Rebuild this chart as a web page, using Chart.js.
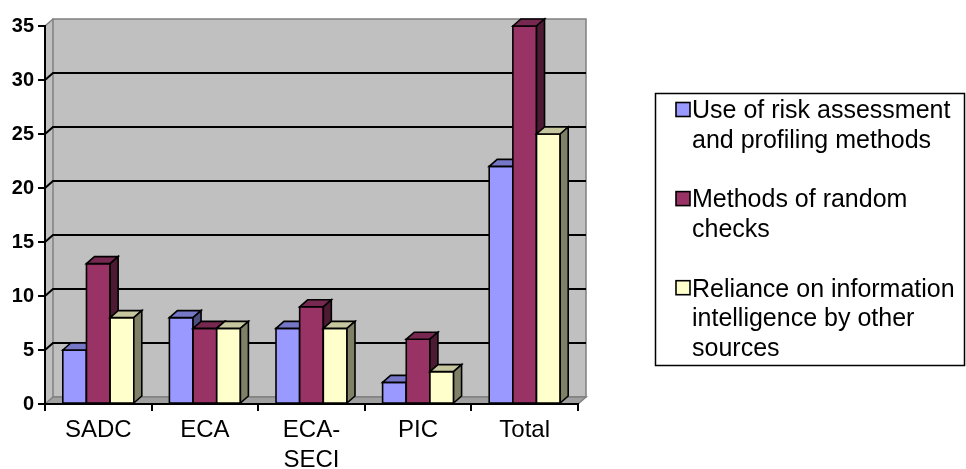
<!DOCTYPE html>
<html>
<head>
<meta charset="utf-8">
<script src="https://cdn.jsdelivr.net/npm/chart.js@4/dist/chart.umd.min.js"></script>
<style>
  html, body { margin: 0; padding: 0; background: #ffffff; }
  #wrap { width: 966px; height: 469px; }
</style>
</head>
<body>
<div id="wrap"><canvas id="c" width="966" height="469"></canvas></div>
<script>
// Regions and counts per method
const categories = ['SADC', 'ECA', ['ECA-', 'SECI'], 'PIC', 'Total'];
const riskAssessment = [5, 8, 7, 2, 22];
const randomChecks = [13, 7, 9, 6, 35];
const otherSources = [8, 7, 7, 3, 25];
const seriesNames = [
  ['Use of risk assessment', 'and profiling methods'],
  ['Methods of random', 'checks'],
  ['Reliance on information', 'intelligence by other', 'sources']
];
const seriesColors = ['#9999FF', '#993366', '#FFFFCC'];
const yMin = 0, yMax = 35, yStep = 5;

const FONT = '"Liberation Sans", Arial, sans-serif';
const DEPTH = { dx: 8, dy: 7 };

function shade(hex, f) {
  const n = parseInt(hex.slice(1), 16);
  const r = Math.round(((n >> 16) & 255) * f);
  const g = Math.round(((n >> 8) & 255) * f);
  const b = Math.round((n & 255) * f);
  return `rgb(${r},${g},${b})`;
}

function poly(ctx, pts, fill, stroke, lw) {
  ctx.beginPath();
  ctx.moveTo(pts[0][0], pts[0][1]);
  for (let i = 1; i < pts.length; i++) ctx.lineTo(pts[i][0], pts[i][1]);
  ctx.closePath();
  if (fill) { ctx.fillStyle = fill; ctx.fill(); }
  if (stroke) { ctx.strokeStyle = stroke; ctx.lineWidth = lw; ctx.stroke(); }
}

// Back wall, side wall, floor and gridlines drawn behind everything
const wallPlugin = {
  id: 'wall3d',
  beforeDraw(chart) {
    const ctx = chart.ctx;
    const { left, right, top, bottom } = chart.chartArea;
    const { dx, dy } = DEPTH;
    const ys = chart.scales.y;
    ctx.save();
    // side wall
    poly(ctx, [[left, top], [left + dx, top - dy], [left + dx, bottom - dy], [left, bottom]], '#c0c0c0', null);
    // back wall
    poly(ctx, [[left + dx, top - dy], [right + dx, top - dy], [right + dx, bottom - dy], [left + dx, bottom - dy]], '#c0c0c0', '#808080', 1.5);
    // floor
    poly(ctx, [[left, bottom], [left + dx, bottom - dy], [right + dx, bottom - dy], [right, bottom]], '#a0a0a0', '#808080', 1.5);
    // top edge of side wall
    ctx.strokeStyle = '#808080';
    ctx.lineWidth = 1.5;
    ctx.beginPath();
    ctx.moveTo(left, top);
    ctx.lineTo(left + dx, top - dy);
    ctx.stroke();
    // gridlines
    ctx.strokeStyle = '#000000';
    ctx.lineWidth = 2;
    ys.ticks.forEach(t => {
      if (t.value <= yMin || t.value >= yMax) return;
      const py = ys.getPixelForValue(t.value);
      ctx.beginPath();
      ctx.moveTo(left, py);
      ctx.lineTo(left + dx, py - dy);
      ctx.lineTo(right + dx, py - dy);
      ctx.stroke();
    });
    ctx.restore();
  }
};

// Columns drawn as prisms, in series order so later series overlap earlier sides
const prismPlugin = {
  id: 'prism',
  beforeDatasetsDraw(chart) {
    const ctx = chart.ctx;
    const { dx, dy } = DEPTH;
    ctx.save();
    ctx.lineJoin = 'miter';
    const n = chart.data.labels.length;
    for (let i = 0; i < n; i++) {
      chart.data.datasets.forEach((ds, d) => {
        const el = chart.getDatasetMeta(d).data[i];
        if (!el) return;
        const p = el.getProps(['x', 'y', 'base', 'width'], true);
        const x0 = p.x - p.width / 2, x1 = p.x + p.width / 2;
        const yt = p.y, yb = p.base;
        const col = ds.backgroundColor;
        // front face
        poly(ctx, [[x0, yt], [x1, yt], [x1, yb], [x0, yb]], col, '#000', 1.6);
        // top face
        poly(ctx, [[x0, yt], [x0 + dx, yt - dy], [x1 + dx, yt - dy], [x1, yt]], shade(col, 0.78), '#000', 1.6);
        // side face
        poly(ctx, [[x1, yt], [x1 + dx, yt - dy], [x1 + dx, yb - dy], [x1, yb]], shade(col, 0.5), '#000', 1.6);
      });
    }
    ctx.restore();
    return false;
  }
};

// Boxed legend on the right
const legendPlugin = {
  id: 'boxLegend',
  afterDraw(chart) {
    const ctx = chart.ctx;
    ctx.save();
    ctx.strokeStyle = '#000';
    ctx.lineWidth = 1.5;
    ctx.strokeRect(655.5, 93.5, 309, 272);
    ctx.font = `25px ${FONT}`;
    ctx.textBaseline = 'middle';
    ctx.textAlign = 'left';
    const lineH = 29.7;
    let line = 0;
    chart.data.datasets.forEach((ds, d) => {
      const lines = seriesNames[d];
      const cy = 111.5 + line * lineH;
      ctx.fillStyle = ds.backgroundColor;
      ctx.fillRect(676, cy - 9, 14, 14);
      ctx.strokeStyle = '#000';
      ctx.lineWidth = 1.6;
      ctx.strokeRect(676, cy - 9, 14, 14);
      ctx.fillStyle = '#000';
      lines.forEach((t, k) => {
        ctx.fillText(t, 692, 111.5 + (line + k) * lineH);
      });
      line += lines.length + 1;
    });
    ctx.restore();
  }
};

const chart = new Chart(document.getElementById('c'), {
  type: 'bar',
  data: {
    labels: categories,
    datasets: [
      { label: seriesNames[0].join(' '), data: riskAssessment, backgroundColor: seriesColors[0] },
      { label: seriesNames[1].join(' '), data: randomChecks, backgroundColor: seriesColors[1] },
      { label: seriesNames[2].join(' '), data: otherSources, backgroundColor: seriesColors[2] }
    ]
  },
  options: {
    responsive: false,
    animation: false,
    devicePixelRatio: 1,
    categoryPercentage: 0.666,
    barPercentage: 1.0,
    layout: { padding: { left: 0, top: 26, right: 388, bottom: 0 } },
    plugins: {
      legend: { display: false },
      tooltip: { enabled: false }
    },
    scales: {
      x: {
        grid: { drawOnChartArea: false, drawTicks: true, tickLength: 7, color: '#000', lineWidth: 2, offset: true },
        border: { display: true, color: '#000', width: 2 },
        ticks: {
          color: '#000',
          padding: 4,
          maxRotation: 0,
          autoSkip: false,
          font: { family: FONT, size: 24, lineHeight: 1.25 }
        },
        afterFit(scale) { scale.height = 65; }
      },
      y: {
        min: yMin,
        max: yMax,
        grid: { drawOnChartArea: false, drawTicks: true, tickLength: 7, color: '#000', lineWidth: 2 },
        border: { display: true, color: '#000', width: 2 },
        ticks: {
          stepSize: yStep,
          color: '#000',
          padding: 4,
          font: { family: FONT, size: 20, weight: 'bold' }
        },
        afterFit(scale) { scale.width = 45; }
      }
    }
  },
  plugins: [wallPlugin, prismPlugin, legendPlugin]
});
</script>
</body>
</html>
